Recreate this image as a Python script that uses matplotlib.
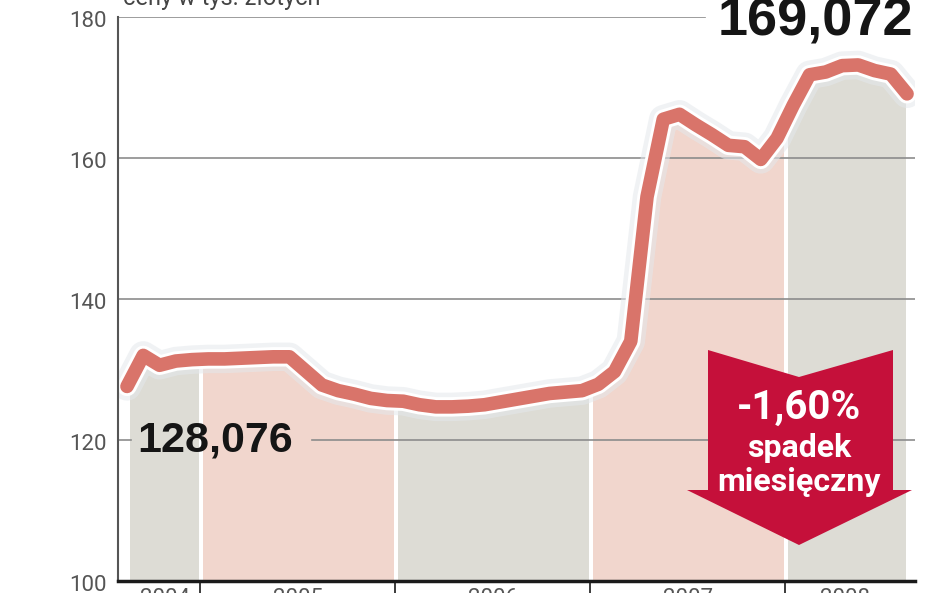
import numpy as np
import matplotlib
matplotlib.use("Agg")
import matplotlib.pyplot as plt
import matplotlib.patheffects as pe
from matplotlib.patches import Polygon, Rectangle
from matplotlib.transforms import ScaledTranslation, blended_transform_factory

# ---- data: monthly average price (thousand PLN), Aug 2004 .. Aug 2008 ----
months = np.arange(49)  # 0 = Aug 2004
prices = [127.6, 132.0, 130.6, 131.2, 131.4, 131.5, 131.5, 131.6, 131.7, 131.8,
          131.8, 129.8, 127.8, 127.0, 126.5, 125.9, 125.6, 125.5, 125.0, 124.7,
          124.7, 124.8, 125.0, 125.4, 125.8, 126.2, 126.6, 126.8, 127.0, 127.9,
          129.7, 134.0, 154.5, 165.5, 166.2, 164.7, 163.3, 161.8, 161.6, 159.8,
          162.8, 167.5, 171.8, 172.2, 173.1, 173.2, 172.4, 171.9, 169.1]
years = ["2004", "2005", "2006", "2007", "2008"]
year_start = [0.18, 4.5, 16.5, 28.5, 40.5]
year_end = [4.5, 16.5, 28.5, 40.5, 47.9]
band_colors = ["#dddcd5", "#f1d6cd", "#dddcd5", "#f1d6cd", "#dddcd5"]
yticks = [100, 120, 140, 160, 180]
first_label = "128,076"
last_label = "169,072"
change_label = "-1,60%"
change_text = ["spadek", "miesięczny"]
title = "ceny w tys. złotych"

W, H = 948, 593
fig = plt.figure(figsize=(W / 100, H / 100), dpi=100)
fig.patch.set_facecolor("white")
ax = fig.add_axes([118 / W, 12 / H, (915 - 118) / W, (581 - 17) / H])
ax.set_xlim(-0.554, 48.49)
ax.set_ylim(100, 180)
ax.set_facecolor("white")

# bands: area under line, split per year with white gaps
gap = 0.16
for s, e, c in zip(year_start, year_end, band_colors):
    poly = ax.fill_between(months, 100, prices, color=c, lw=0, zorder=1)
    x0 = s + (gap if s > 1 else 0)
    x1 = e - (gap if e < 47 else 0)
    rect = Rectangle((x0, 100), x1 - x0, 80, transform=ax.transData, visible=False)
    ax.add_patch(rect)
    poly.set_clip_path(rect)

# gridlines
gc = "#8c8c8c"
for v in [140, 160]:
    ax.axhline(v, color=gc, lw=1.2, zorder=2)
ax.axhline(180, xmin=0, xmax=(705 - 118) / 797, color=gc, lw=1.2, zorder=2)
ax.axhline(120, xmin=0, xmax=(131 - 118) / 797, color=gc, lw=1.2, zorder=2)
ax.axhline(120, xmin=(312 - 118) / 797, xmax=1, color=gc, lw=1.2, zorder=2)

# line
ax.plot(months, prices, color="#d9746a", lw=9.8, solid_capstyle="round",
        solid_joinstyle="round", zorder=4,
        path_effects=[pe.Stroke(linewidth=20.5, foreground="#e4e8ec", alpha=0.55),
                      pe.Stroke(linewidth=14, foreground="white"),
                      pe.Normal()])

# spines
for s in ["top", "right"]:
    ax.spines[s].set_visible(False)
ax.spines["left"].set_color("#555555")
ax.spines["left"].set_linewidth(1.5)
ax.spines["bottom"].set_color("#1a1a1a")
ax.spines["bottom"].set_linewidth(2.5)
ax.spines["left"].set_zorder(6)
ax.spines["bottom"].set_zorder(6)

ax.set_yticks([])
ax.set_xticks(year_start[1:])
ax.tick_params(axis="x", direction="out", length=9, width=1.2, color="#1a1a1a",
               labelbottom=False)

# y labels
off = ScaledTranslation(0, -5 / 100, fig.dpi_scale_trans)
bt = blended_transform_factory(fig.transFigure, ax.transData)
for v in yticks:
    ax.text(107 / W, v, str(v), transform=bt + off, ha="right", va="center",
            fontsize=16, color="#555555", family="Roboto", clip_on=False)

# year labels (cut at bottom, as in the reference)
for s, e, y in zip(year_start, year_end, years):
    ax.text((s + e) / 2, 100, y,
            transform=ax.transData + ScaledTranslation(0, -7 / 100, fig.dpi_scale_trans),
            ha="center", va="top", fontsize=16, color="#555555", family="Roboto",
            clip_on=False)

# title (cut at top, as in the reference)
fig.text(123 / W, 1 - 5 / H, title, ha="left", va="baseline", fontsize=17,
         color="#444444", family="Roboto")

# value labels
fig.text(215 / W, 1 - 441 / H, first_label, ha="center", va="center",
         fontsize=31, fontweight="bold", color="#151515", family="Liberation Sans")
fig.text(815 / W, 1 - 21 / H, last_label, ha="center", va="center",
         fontsize=39, fontweight="bold", color="#151515", family="Liberation Sans")

# arrow
cx = 799
pts_px = [(708, 350), (cx, 377), (893, 350), (893, 490), (912, 490), (cx, 545),
          (687, 490), (708, 490)]
arrow = Polygon([(x / W, 1 - y / H) for x, y in pts_px], closed=True,
                transform=fig.transFigure, facecolor="#c5103a", edgecolor="none",
                zorder=7, clip_on=False)
ax.add_patch(arrow)
fig.text(cx / W, 1 - 408 / H, change_label, ha="center", va="center", fontsize=29,
         fontweight="bold", color="white", family="Roboto", zorder=8)
fig.text(cx / W, 1 - 448 / H, change_text[0], ha="center", va="center", fontsize=23,
         fontweight="bold", color="white", family="Roboto", zorder=8)
fig.text(cx / W, 1 - 482 / H, change_text[1], ha="center", va="center", fontsize=23,
         fontweight="bold", color="white", family="Roboto", zorder=8)

fig.savefig("out.png", dpi=100)
